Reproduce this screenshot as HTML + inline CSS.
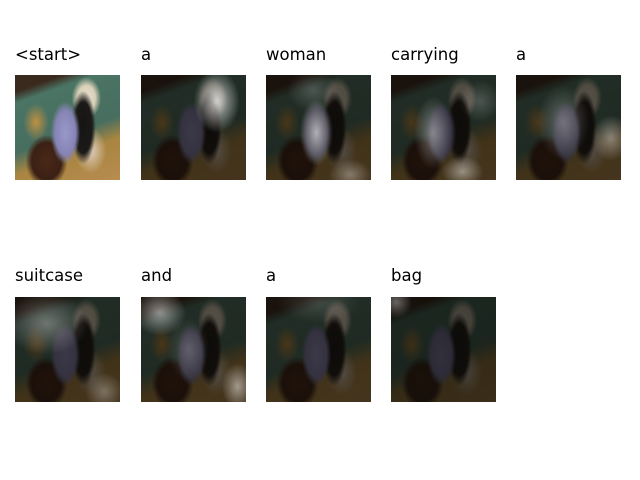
<!DOCTYPE html>
<html><head><meta charset="utf-8"><style>
body{margin:0;width:640px;height:480px;background:#fff;position:relative;overflow:hidden;font-family:"DejaVu Sans","Liberation Sans",sans-serif;}
.t{position:absolute;font-size:16.5px;color:#000;}
.tile{position:absolute;width:105px;height:105px;overflow:hidden;}
.scene{position:absolute;inset:0;background:
radial-gradient(ellipse 14% 30% at 48% 55%, #9a98c8 0%, #8684b4 70%, rgba(134,132,180,0) 100%),
radial-gradient(ellipse 12% 35% at 65% 50%, #151515 0%, #1c1a18 70%, rgba(20,20,20,0) 100%),
radial-gradient(ellipse 14% 20% at 68% 22%, #e8e0d0 0%, #d8d0b8 60%, rgba(216,208,184,0) 100%),
radial-gradient(ellipse 20% 25% at 30% 82%, #4a2818 0%, #3a2014 70%, rgba(58,32,20,0) 100%),
radial-gradient(ellipse 12% 18% at 20% 45%, #c09040 0%, rgba(192,144,64,0) 100%),
radial-gradient(ellipse 15% 22% at 72% 72%, #e0d0c0 0%, rgba(224,208,192,0) 100%),
linear-gradient(160deg, #3a2a1e 0%, #3a2a1e 12%, #4a7464 20%, #486e60 55%, #a88540 70%, #b88c50 100%);}
.dim{position:absolute;inset:0;background:rgba(10,8,5,0.66);}
.glow{position:absolute;inset:0;}
</style></head><body>
<div class="t" style="left:15px;top:45px">&lt;start&gt;</div>
<div class="t" style="left:141px;top:45px">a</div>
<div class="t" style="left:266px;top:45px">woman</div>
<div class="t" style="left:391px;top:45px">carrying</div>
<div class="t" style="left:516px;top:45px">a</div>
<div class="t" style="left:15px;top:266px">suitcase</div>
<div class="t" style="left:141px;top:266px">and</div>
<div class="t" style="left:266px;top:266px">a</div>
<div class="t" style="left:391px;top:266px">bag</div>

<div class="tile" style="left:15px;top:75px"><div class="scene"></div></div>

<div class="tile" style="left:141px;top:75px"><div class="scene"></div><div class="dim"></div>
<div class="glow" style="background:radial-gradient(ellipse 22% 30% at 72% 25%, rgba(255,255,255,0.75), rgba(255,255,255,0) 100%)"></div></div>

<div class="tile" style="left:266px;top:75px"><div class="scene"></div><div class="dim"></div>
<div class="glow" style="background:radial-gradient(ellipse 16% 32% at 48% 55%, rgba(255,255,255,0.6), rgba(255,255,255,0) 100%),radial-gradient(ellipse 20% 15% at 80% 95%, rgba(255,255,255,0.35), rgba(255,255,255,0) 100%),radial-gradient(ellipse 25% 20% at 45% 15%, rgba(255,255,255,0.2), rgba(255,255,255,0) 100%)"></div></div>

<div class="tile" style="left:391px;top:75px"><div class="scene"></div><div class="dim"></div>
<div class="glow" style="background:radial-gradient(ellipse 18% 35% at 40% 55%, rgba(255,255,255,0.4), rgba(255,255,255,0) 100%),radial-gradient(ellipse 20% 15% at 68% 92%, rgba(255,255,255,0.45), rgba(255,255,255,0) 100%),radial-gradient(ellipse 20% 20% at 85% 25%, rgba(255,255,255,0.2), rgba(255,255,255,0) 100%)"></div></div>

<div class="tile" style="left:516px;top:75px"><div class="scene"></div><div class="dim"></div>
<div class="glow" style="background:radial-gradient(ellipse 25% 35% at 45% 45%, rgba(255,255,255,0.3), rgba(255,255,255,0) 100%),radial-gradient(ellipse 18% 22% at 90% 60%, rgba(255,255,255,0.4), rgba(255,255,255,0) 100%)"></div></div>

<div class="tile" style="left:15px;top:297px"><div class="scene"></div><div class="dim"></div>
<div class="glow" style="background:radial-gradient(ellipse 40% 30% at 30% 25%, rgba(255,255,255,0.35), rgba(255,255,255,0) 100%),radial-gradient(ellipse 18% 18% at 85% 90%, rgba(255,255,255,0.3), rgba(255,255,255,0) 100%)"></div></div>

<div class="tile" style="left:141px;top:297px"><div class="scene"></div><div class="dim"></div>
<div class="glow" style="background:radial-gradient(ellipse 25% 22% at 18% 15%, rgba(255,255,255,0.5), rgba(255,255,255,0) 100%),radial-gradient(ellipse 15% 22% at 92% 85%, rgba(255,255,255,0.5), rgba(255,255,255,0) 100%),radial-gradient(ellipse 20% 30% at 45% 50%, rgba(255,255,255,0.2), rgba(255,255,255,0) 100%)"></div></div>

<div class="tile" style="left:266px;top:297px"><div class="scene"></div><div class="dim"></div>
<div class="glow" style="background:radial-gradient(ellipse 40% 20% at 50% 5%, rgba(255,255,255,0.15), rgba(255,255,255,0) 100%)"></div></div>

<div class="tile" style="left:391px;top:297px"><div class="scene"></div><div class="dim" style="background:rgba(10,8,5,0.72)"></div>
<div class="glow" style="background:radial-gradient(ellipse 15% 15% at 5% 5%, rgba(255,255,255,0.35), rgba(255,255,255,0) 100%)"></div></div>
</body></html>
